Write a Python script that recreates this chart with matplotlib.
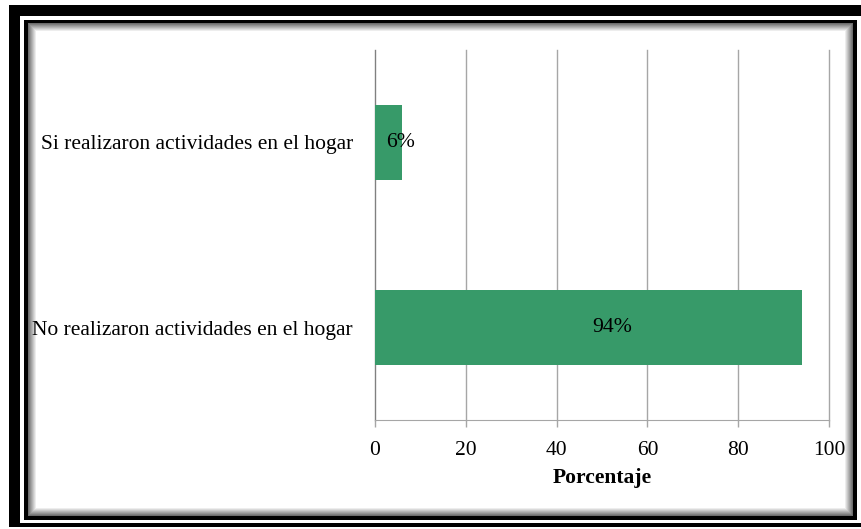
import matplotlib.pyplot as plt
from matplotlib.patches import Rectangle


categories = ["No realizaron actividades en el hogar", "Si realizaron actividades en el hogar"]
percentages = [94, 6]
bar_labels = ["94%", "6%"]
x_ticks = [0, 20, 40, 60, 80, 100]

BAR_COLOR = "#379A69"
GRID_COLOR = "#A6A6A6"
W, H = 862, 529


def px_rect(fig, x0, y0, x1, y1, **kw):
    # rectangle given in pixel coords, y measured from the top
    r = Rectangle((x0 / W, 1 - y1 / H), (x1 - x0) / W, (y1 - y0) / H,
                  transform=fig.transFigure, **kw)
    fig.patches.append(r)


def draw_frame(fig):
    px_rect(fig, 9, 5, 875, 527, facecolor="black", edgecolor="none")
    px_rect(fig, 20, 16, 875, 523, facecolor="white", edgecolor="none")
    px_rect(fig, 24, 20, 857, 520, facecolor="black", edgecolor="none")
    # soft inner shadow
    steps = 9
    for i in range(steps):
        shade = 0.35 + 0.65 * (i + 1) / steps
        px_rect(fig, 28 + i, 23 + i, 853 - i, 516 - i,
                facecolor=(shade, shade, shade), edgecolor="none")


def main():
    plt.rcParams["font.family"] = ["Liberation Serif", "DejaVu Serif"]

    fig = plt.figure(figsize=(W / 100, H / 100), dpi=100)
    draw_frame(fig)

    ax = fig.add_axes([375 / W, 1 - 420 / H, (829 - 375) / W, (420 - 50) / H])
    ax.set_zorder(2)
    ax.patch.set_alpha(0)

    y = list(range(len(categories)))
    bars = ax.barh(y, percentages, height=0.405, color=BAR_COLOR, zorder=3)

    offsets = [24, 12]
    for bar, text, off in zip(bars, bar_labels, offsets):
        ax.annotate(text, (bar.get_width() / 2, bar.get_y() + bar.get_height() / 2),
                    xytext=(off * 0.72, 0), textcoords="offset points",
                    ha="center", va="center", fontsize=15.7, color="black", zorder=4)

    ax.set_xlim(0, 100)
    ax.set_ylim(-0.5, 1.5)
    ax.set_xticks(x_ticks)
    ax.set_yticks(y)
    ax.set_yticklabels(categories)
    ax.tick_params(axis="y", length=0, pad=16, labelsize=15.5)
    ax.tick_params(axis="x", length=5, width=1, color=GRID_COLOR, pad=10, labelsize=15.5)

    ax.grid(axis="x", color=GRID_COLOR, linewidth=1, zorder=0)
    for line in ax.get_xgridlines():
        line.set_clip_on(False)
    for side in ["top", "right"]:
        ax.spines[side].set_visible(False)
    ax.spines["bottom"].set_color(GRID_COLOR)
    ax.spines["left"].set_color("#808080")

    ax.set_xlabel("Porcentaje", fontsize=15.5, fontweight="bold", labelpad=6)

    fig.savefig("out.png", dpi=100)
    plt.close(fig)


if __name__ == "__main__":
    main()
